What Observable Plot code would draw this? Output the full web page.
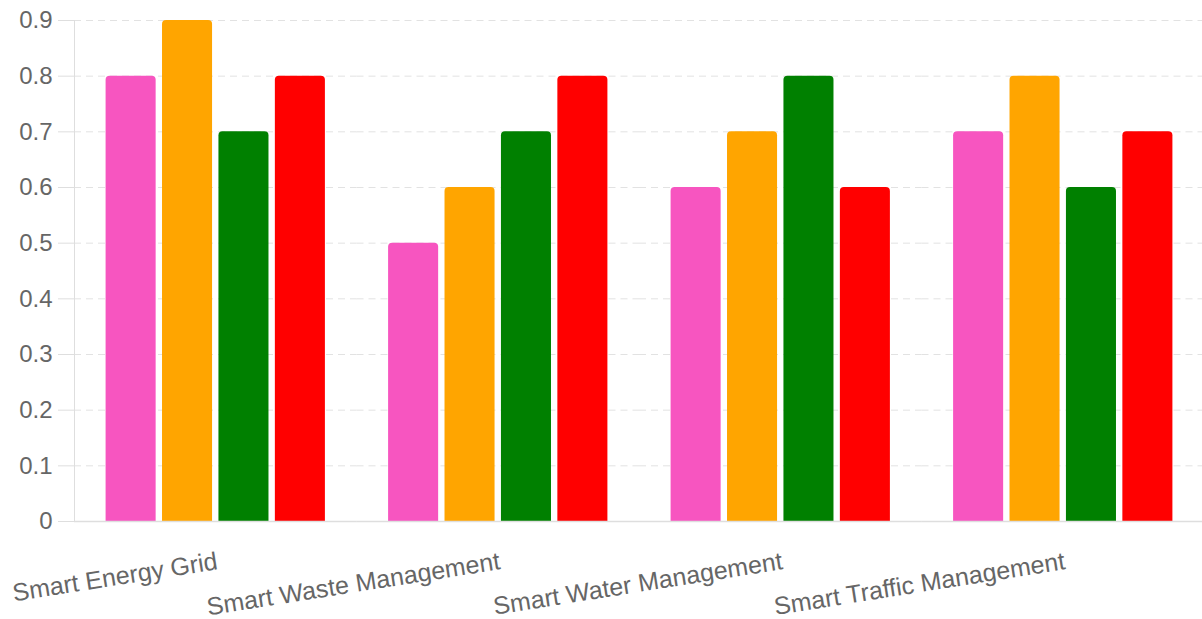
<!DOCTYPE html>
<html>
<head>
<meta charset="utf-8">
<script src="https://cdn.jsdelivr.net/npm/d3@7"></script>
<script src="https://cdn.jsdelivr.net/npm/@observablehq/plot@0.6"></script>
<style>
  html, body { margin: 0; padding: 0; background: #fff; }
  #chart { width: 1202px; height: 619px; overflow: hidden; }
</style>
</head>
<body>
<div id="chart"></div>
<script>
const categories = ["Smart Energy Grid", "Smart Waste Management", "Smart Water Management", "Smart Traffic Management"];
const seriesNames = ["Metric 1", "Metric 2", "Metric 3", "Metric 4"];
const seriesColors = ["#f755c0", "#ffa500", "#008000", "#ff0000"];
const metric1 = [0.8, 0.5, 0.6, 0.7];
const metric2 = [0.9, 0.6, 0.7, 0.8];
const metric3 = [0.7, 0.7, 0.8, 0.6];
const metric4 = [0.8, 0.8, 0.6, 0.7];
const yTicks = [0, 0.1, 0.2, 0.3, 0.4, 0.5, 0.6, 0.7, 0.8, 0.9];

const seriesValues = [metric1, metric2, metric3, metric4];
const rows = [];
categories.forEach((c, i) => {
  seriesNames.forEach((s, j) => rows.push({category: c, series: s, value: seriesValues[j][i]}));
});

const textColor = "#666";
const lineColor = "#dedede";

const chart = Plot.plot({
  width: 1202,
  height: 619,
  marginLeft: 74,
  marginRight: -2,
  marginTop: 20,
  marginBottom: 98,
  style: {fontFamily: "'Liberation Sans', Arial, sans-serif", fontSize: "24px", background: "#fff"},
  fx: {domain: categories, padding: 0, round: false, axis: null},
  x: {domain: seriesNames, paddingInner: 0.113, paddingOuter: 0.56, round: false, axis: null},
  y: {domain: [0, 0.9], axis: null},
  color: {domain: seriesNames, range: seriesColors},
  marks: [
    Plot.gridY(yTicks, {stroke: "#e2e2e2", strokeOpacity: 1, strokeDasharray: "7,5"}),
    Plot.barY(rows, {fx: "category", x: "series", y: "value", fill: "series", ry1: 4}),
    Plot.ruleY([0], {stroke: lineColor, strokeWidth: 1.5}),
    Plot.axisY(yTicks, {
      tickSize: 16, tickPadding: 6, stroke: lineColor, fill: textColor,
      fontSize: 24, tickFormat: d => String(d), label: null
    }),
    Plot.frame({anchor: "left", stroke: lineColor, facetAnchor: "left"}),
    Plot.text(categories, {
      fx: d => d, text: d => d, frameAnchor: "bottom", dy: 30,
      rotate: -9, textAnchor: "end", lineAnchor: "top",
      fontSize: 25, fill: textColor
    })
  ]
});
document.getElementById("chart").appendChild(chart);
</script>
</body>
</html>
